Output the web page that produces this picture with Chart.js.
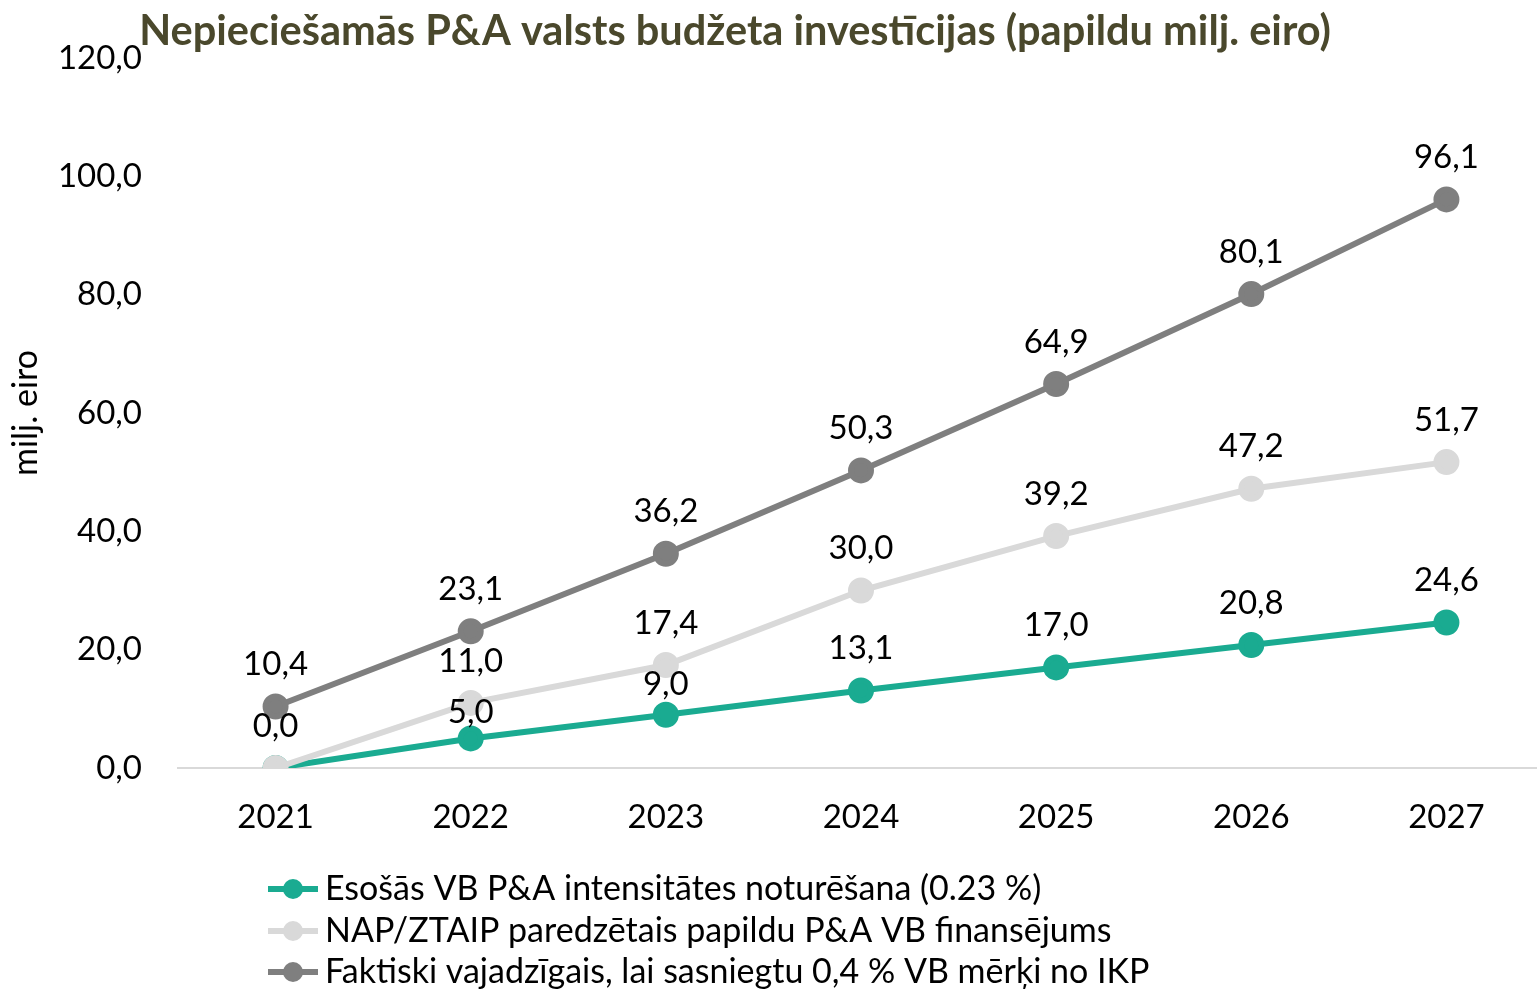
<!DOCTYPE html>
<html>
<head>
<meta charset="utf-8">
<script src="https://cdn.jsdelivr.net/npm/chart.js@4.4.1/dist/chart.umd.min.js"></script>
<style>
  html, body { margin: 0; padding: 0; background: #ffffff; overflow: hidden; }
  canvas { display: block; }
</style>
</head>
<body>
<canvas id="c" width="1560" height="991" style="width:1560px;height:991px"></canvas>
<script>
const years = ['2021', '2022', '2023', '2024', '2025', '2026', '2027'];
const seriesNames = [
  'Esošās VB P&A intensitātes noturēšana (0.23 %)',
  'NAP/ZTAIP paredzētais papildu P&A VB finansējums',
  'Faktiski vajadzīgais, lai sasniegtu 0,4 % VB mērķi no IKP'
];
const keepIntensity = [0.0, 5.0, 9.0, 13.1, 17.0, 20.8, 24.6];
const napPlanned = [0.0, 11.0, 17.4, 30.0, 39.2, 47.2, 51.7];
const actualNeeded = [10.4, 23.1, 36.2, 50.3, 64.9, 80.1, 96.1];
const yTicks = [0, 20, 40, 60, 80, 100, 120];
const titleText = 'Nepiecie\u0161am\u0101s P&A valsts bud\u017eeta invest\u012bcijas (papildu milj. eiro)';
const yAxisTitle = 'milj. eiro';

const FONT = 'Lato, "Open Sans", sans-serif';
const fmt = v => v.toFixed(1).replace('.', ',');

const colors = ['#1aab91', '#d9d9d9', '#7f7f7f'];

const labelPlugin = {
  id: 'valueLabels',
  afterDatasetsDraw(chart) {
    const ctx = chart.ctx;
    ctx.save();
    ctx.font = '33px ' + FONT;
    ctx.fillStyle = '#000000';
    ctx.textAlign = 'center';
    ctx.textBaseline = 'middle';
    chart.data.datasets.forEach((ds, di) => {
      const meta = chart.getDatasetMeta(di);
      meta.data.forEach((pt, i) => {
        if (ds.skipLabel && ds.skipLabel[i]) return;
        const off = (ds.labelOffsets && ds.labelOffsets[i]) || 42;
        ctx.fillText(fmt(ds.data[i]), pt.x, pt.y - off);
      });
    });
    ctx.restore();
  }
};

const titlePlugin = {
  id: 'customTitle',
  afterDraw(chart) {
    const ctx = chart.ctx;
    ctx.save();
    ctx.font = 'bold 41.5px ' + FONT;
    ctx.fillStyle = '#4a482c';
    ctx.textAlign = 'center';
    ctx.textBaseline = 'middle';
    ctx.fillText(titleText, 735, 32);
    ctx.restore();
  }
};

const legendPlugin = {
  id: 'customLegend',
  afterDraw(chart) {
    const ctx = chart.ctx;
    const rows = [889, 931, 972];
    ctx.save();
    chart.data.datasets.forEach((ds, di) => {
      const y = rows[di];
      ctx.strokeStyle = ds.borderColor;
      ctx.lineWidth = 6;
      ctx.beginPath();
      ctx.moveTo(268, y);
      ctx.lineTo(318, y);
      ctx.stroke();
      ctx.fillStyle = ds.borderColor;
      ctx.beginPath();
      ctx.arc(293, y, 10, 0, Math.PI * 2);
      ctx.fill();
      ctx.fillStyle = '#000000';
      ctx.font = '34px ' + FONT;
      ctx.textAlign = 'left';
      ctx.textBaseline = 'middle';
      ctx.fillText(ds.label, 325, y);
    });
    ctx.restore();
  }
};

function makeDs(label, data, color, order, offsets, skip) {
  return {
    label: label,
    data: data,
    borderColor: color,
    backgroundColor: color,
    pointBackgroundColor: color,
    pointBorderColor: color,
    borderWidth: 6,
    pointRadius: 10,
    pointHoverRadius: 10,
    tension: 0,
    order: order,
    labelOffsets: offsets,
    skipLabel: skip
  };
}

new Chart(document.getElementById('c'), {
  type: 'line',
  data: {
    labels: years,
    datasets: [
      makeDs(seriesNames[0], keepIntensity, colors[0], 3, [42, 26, 30, 42, 42, 42, 42], null),
      makeDs(seriesNames[1], napPlanned, colors[1], 2, null, [true]),
      makeDs(seriesNames[2], actualNeeded, colors[2], 1, null, null)
    ]
  },
  options: {
    responsive: false,
    maintainAspectRatio: false,
    animation: false,
    devicePixelRatio: 1,
    layout: { padding: { top: 58, right: 0, bottom: 0, left: 0 } },
    plugins: {
      legend: { display: false },
      title: { display: false },
      tooltip: { enabled: false }
    },
    scales: {
      x: {
        offset: true,
        grid: { display: false, drawTicks: false },
        border: { display: true, color: '#d9d9d9', width: 2 },
        ticks: { color: '#000000', font: { family: FONT, size: 33 }, padding: 30 },
        afterFit(scale) { scale.height = 991 - 768; }
      },
      y: {
        min: 0,
        max: 120,
        afterBuildTicks(scale) { scale.ticks = yTicks.map(v => ({ value: v })); },
        grid: { display: false, drawTicks: false },
        border: { display: false },
        ticks: {
          color: '#000000',
          font: { family: FONT, size: 33 },
          padding: 36,
          callback: v => fmt(v)
        },
        title: {
          display: true,
          text: yAxisTitle,
          color: '#000000',
          font: { family: FONT, size: 34 },
          padding: { top: 6, bottom: 0 }
        },
        afterFit(scale) { scale.width = 178; }
      }
    }
  },
  plugins: [labelPlugin, titlePlugin, legendPlugin]
});
</script>
</body>
</html>
